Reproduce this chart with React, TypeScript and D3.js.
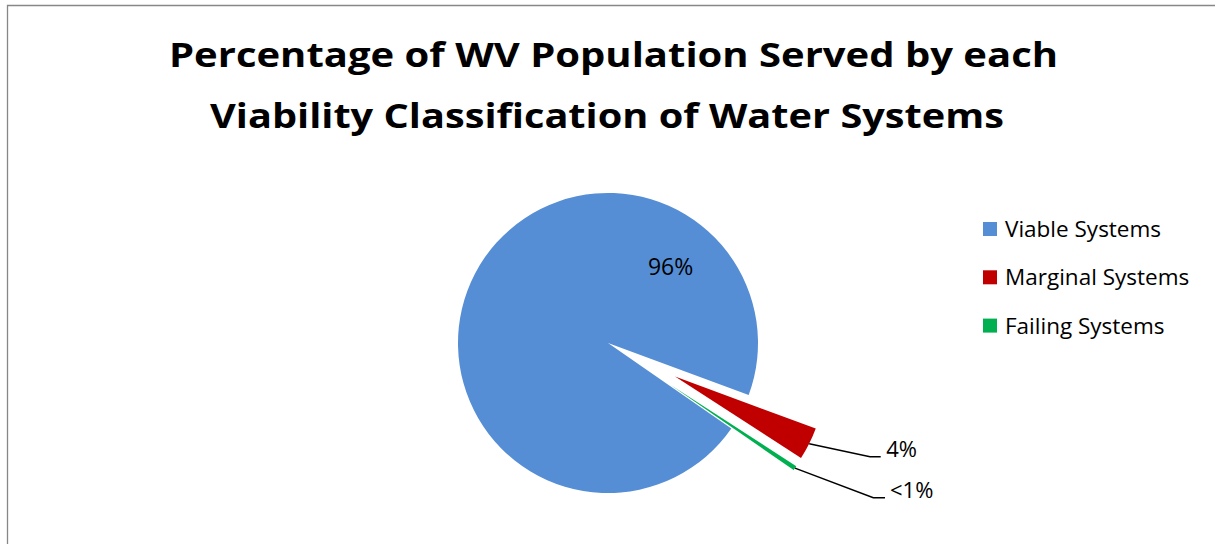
import React from "react";
import * as d3 from "d3";

// Share of the WV population served, by viability classification (percent)
const categories = ["Viable Systems", "Marginal Systems", "Failing Systems"];
const shares = [96, 3.5, 0.5];
const colors = ["#558ED5", "#C00000", "#00B050"];
const explode = [0, 0.5, 0.5];

const titleLines = [
  "Percentage of WV Population Served by each",
  "Viability Classification of Water Systems",
];

const W = 1215;
const H = 544;
const cx = 608;
const cy = 343;
const R = 150;
const firstSliceDeg = 124.7;

const FONT = "'Open Sans', 'Noto Sans', sans-serif";

const fmt = (v: number) => (v < 1 ? "<1%" : `${Math.round(v)}%`);

export default function App() {
  const start = (firstSliceDeg * Math.PI) / 180;
  const pie = d3
    .pie<number>()
    .sort(null)
    .value((d) => d)
    .startAngle(start)
    .endAngle(start + 2 * Math.PI);
  const arcs = pie(shares);
  const arc = d3.arc<d3.PieArcDatum<number>>().innerRadius(0).outerRadius(R);

  const mid = (a: d3.PieArcDatum<number>) => (a.startAngle + a.endAngle) / 2;
  const offset = (a: d3.PieArcDatum<number>, i: number) => {
    const m = mid(a);
    const d = explode[i] * R;
    return [Math.sin(m) * d, -Math.cos(m) * d];
  };

  // Outside-label layout for the small slices (elbow relative to pie centre)
  const outside: Record<number, { ex: number; ey: number; len: number; gap: number }> = {
    1: { ex: 262, ey: 113.7, len: 10.7, gap: 5.5 },
    2: { ex: 265.3, ey: 154.7, len: 11.7, gap: 5 },
  };

  // Inside label for the big slice
  const insideAngle = (39.2 * Math.PI) / 180;
  const insideR = 99;

  return (
    <div style={{ position: "absolute", left: 0, top: 0 }}>
      <svg width={W} height={H} style={{ display: "block", background: "#fff" }}>
        <path d={`M7.5,${H} V5.5 H${W}`} fill="none" stroke="#878787" strokeWidth={1.3} />

        <g fontFamily={FONT} fontWeight={700} fontSize={34.5} fill="#000">
          <text x={169} y={67.3} textLength={889} lengthAdjust="spacingAndGlyphs">
            {titleLines[0]}
          </text>
          <text x={210} y={128.3} textLength={794} lengthAdjust="spacingAndGlyphs">
            {titleLines[1]}
          </text>
        </g>

        <g transform={`translate(${cx},${cy})`}>
          {arcs.map((a, i) => {
            const [dx, dy] = offset(a, i);
            return (
              <path
                key={categories[i]}
                d={arc(a) || ""}
                transform={`translate(${dx},${dy})`}
                fill={colors[i]}
              />
            );
          })}

          <text
            x={Math.sin(insideAngle) * insideR}
            y={-Math.cos(insideAngle) * insideR}
            dy="0.36em"
            textAnchor="middle"
            fontFamily={FONT}
            fontSize={23}
            fill="#000"
          >
            {fmt(shares[0])}
          </text>

          {arcs.map((a, i) => {
            const lay = outside[i];
            if (!lay) return null;
            const [dx, dy] = offset(a, i);
            const m = mid(a);
            const sx = dx + Math.sin(m) * R;
            const sy = dy - Math.cos(m) * R;
            return (
              <g key={`lab-${i}`}>
                <polyline
                  points={`${sx},${sy} ${lay.ex},${lay.ey} ${lay.ex + lay.len},${lay.ey}`}
                  fill="none"
                  stroke="#000"
                  strokeWidth={1.5}
                />
                <text
                  x={lay.ex + lay.len + lay.gap}
                  y={lay.ey}
                  fontFamily={FONT}
                  fontSize={22}
                  fill="#000"
                >
                  {fmt(shares[i])}
                </text>
              </g>
            );
          })}
        </g>

        <g fontFamily={FONT} fontSize={22.5} fill="#000">
          {categories.map((c, i) => (
            <g key={c} transform={`translate(983,${229 + i * 48.3})`}>
              <rect x={0} y={-7} width={14} height={14} fill={colors[i]} />
              <text x={22} y={7.9}>
                {c}
              </text>
            </g>
          ))}
        </g>
      </svg>
    </div>
  );
}
